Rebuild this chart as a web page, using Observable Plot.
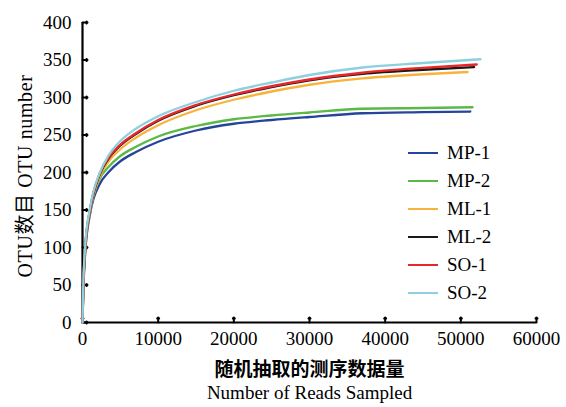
<!DOCTYPE html>
<html>
<head>
<meta charset="utf-8">
<script src="https://cdn.jsdelivr.net/npm/d3@7"></script>
<script src="https://cdn.jsdelivr.net/npm/@observablehq/plot@0.6"></script>
<style>
  html, body { margin: 0; padding: 0; background: #fff; }
  #wrap { position: relative; width: 566px; height: 407px; }
  #legend { position: absolute; left: 408px; top: 139px; font-family: "Liberation Serif", "Times New Roman", serif; font-size: 19px; color: #000; }
  .row { height: 28px; display: flex; align-items: center; }
  .sw { width: 30px; height: 0; border-top: 2.4px solid; margin-right: 9px; }
  #ylab { position: absolute; left: -125px; top: 164px; width: 300px; height: 24px; line-height: 24px; text-align: center;
          transform: rotate(-90deg); transform-origin: 150px 12px; white-space: nowrap; letter-spacing: 0.6px;
          font-family: "Liberation Serif", "Times New Roman", "Noto Sans CJK SC", serif; font-size: 20px; color: #000; }
</style>
</head>
<body>
<div id="wrap"><div id="legend"></div><div id="ylab"></div></div>
<script>
const series = ["MP-1", "MP-2", "ML-1", "ML-2", "SO-1", "SO-2"];
const colors = ["#27449c", "#5bb946", "#f8b33c", "#1a1a1a", "#e8272b", "#8dd0df"];
const reads = [0, 100, 350, 1000, 2300, 3400, 5000, 7000, 10000, 15000, 20000, 25000, 30000, 37000, 45000];
const endReads = [51250, 51550, 50900, 51750, 52100, 52600];
const otuMP1 = [0, 40, 92, 145, 185, 200, 215, 227, 241, 256, 265, 270, 274, 279, 280.5, 281.3];
const otuMP2 = [0, 43, 94, 147, 192, 207, 222, 234, 248, 262, 271, 276, 280, 285, 286, 287];
const otuML1 = [0, 44, 96, 148, 195, 214, 231, 246, 263, 283, 297, 308, 317, 325.5, 331, 334];
const otuML2 = [0, 45, 98, 150, 198, 218, 236, 251, 269, 289, 303, 314, 323, 331.5, 337, 340.5];
const otuSO1 = [0, 46, 99, 151, 199, 219, 237, 252, 270, 290, 304, 315, 324, 333, 339.5, 344];
const otuSO2 = [0, 48, 102, 153, 200, 222, 242, 258, 275, 294, 309, 320, 330, 340, 346, 351];
const xTicks = [0, 10000, 20000, 30000, 40000, 50000, 60000];
const yTicks = [0, 50, 100, 150, 200, 250, 300, 350, 400];
const yLabel = "OTU数目 OTU number";
const xLabelCn = "随机抽取的测序数据量";
const xLabelEn = "Number of Reads Sampled";

const allOtu = [otuMP1, otuMP2, otuML1, otuML2, otuSO1, otuSO2];
const rows = [];
series.forEach((s, i) => {
  const xs = [...reads, endReads[i]];
  xs.forEach((x, j) => rows.push({series: s, reads: x, otu: allOtu[i][j]}));
});

const serif = "'Liberation Serif', 'Times New Roman', 'Noto Sans CJK SC', serif";

const chart = Plot.plot({
  width: 566,
  height: 407,
  marginLeft: 82,
  marginRight: 30,
  marginTop: 22,
  marginBottom: 85,
  style: {fontFamily: serif, fontSize: "19px", color: "#000", background: "#fff"},
  x: {domain: [0, 60000]},
  y: {domain: [0, 400]},
  color: {domain: series, range: colors},
  marks: [
    Plot.axisX(xTicks, {tickSize: 0, tickPadding: 9, tickFormat: d => String(d), label: null, fontSize: 19}),
    Plot.axisY(yTicks, {tickSize: 0, tickPadding: 11, tickFormat: d => String(d), label: null, fontSize: 19}),
    Plot.vector(xTicks, {x: d => d, y: 0, length: 5, anchor: "start", rotate: 0, strokeWidth: 2, stroke: "#000"}),
    Plot.vector(yTicks, {x: 0, y: d => d, length: 5, anchor: "start", rotate: 90, strokeWidth: 2, stroke: "#000"}),
    Plot.ruleY([0], {strokeWidth: 2.2, stroke: "#000"}),
    Plot.ruleX([0], {strokeWidth: 2.2, stroke: "#000"}),
    Plot.line(rows, {x: "reads", y: "otu", z: "series", stroke: "series", strokeWidth: 2.3, curve: "monotone-x"}),
    Plot.text([xLabelCn], {text: d => d, frameAnchor: "bottom", dy: 53, fontSize: 19, fontWeight: 600, fontFamily: "'Noto Sans CJK SC', sans-serif"}),
    Plot.text([xLabelEn], {text: d => d, frameAnchor: "bottom", dy: 76, fontSize: 19, fontFamily: serif})
  ]
});
document.getElementById("wrap").prepend(chart);
document.getElementById("ylab").textContent = yLabel;

const legend = document.getElementById("legend");
series.forEach((s, i) => {
  const r = document.createElement("div");
  r.className = "row";
  const sw = document.createElement("span");
  sw.className = "sw";
  sw.style.borderTopColor = colors[i];
  const t = document.createElement("span");
  t.textContent = s;
  r.append(sw, t);
  legend.append(r);
});
</script>
</body>
</html>
